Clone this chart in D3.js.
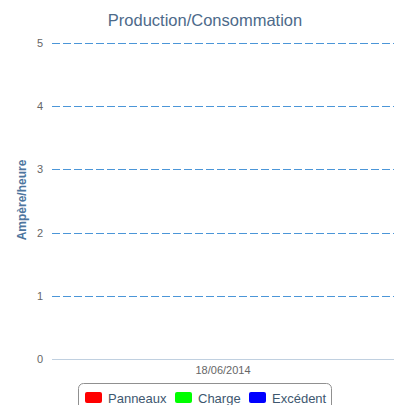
<!DOCTYPE html>
<html>
<head>
<meta charset="utf-8">
<script src="https://cdn.jsdelivr.net/npm/d3@7"></script>
<style>
  body { margin: 0; background: #fff; }
  svg { display: block; font-family: "Liberation Sans", Arial, sans-serif; }
</style>
</head>
<body>
<svg id="chart"></svg>
<script>
(function() {

// data
const categories = ["18/06/2014"];
const seriesNames = ["Panneaux", "Charge", "Excédent"];
const seriesColors = ["#ff0000", "#00ff00", "#0000ff"];
const panneaux = [0];
const charge = [0];
const excedent = [0];
const yTicks = [0, 1, 2, 3, 4, 5];

const W = 394, H = 405;
const margin = { top: 43, right: 0, bottom: 46, left: 52 };
const width = W - margin.left - margin.right;
const height = H - margin.top - margin.bottom;

const svg = d3.select("#chart")
    .attr("width", W)
    .attr("height", H);

const g = svg.append("g")
    .attr("transform", `translate(${margin.left},${margin.top})`);

const x = d3.scaleBand().domain(categories).range([0, width]).paddingInner(0.2).paddingOuter(0.1);
const xs = d3.scaleBand().domain(seriesNames).range([0, x.bandwidth()]).padding(0.1);
const y = d3.scaleLinear().domain([0, 5]).range([height, 0]);

// grid lines
g.selectAll(".grid")
    .data(yTicks.filter(d => d > 0))
    .enter().append("line")
    .attr("class", "grid")
    .attr("x1", 0)
    .attr("x2", width)
    .attr("y1", d => Math.round(y(d)) + 0.5)
    .attr("y2", d => Math.round(y(d)) + 0.5)
    .attr("stroke", "#4b96d8")
    .attr("stroke-width", 1)
    .attr("stroke-dasharray", "8,3");

// y labels
g.selectAll(".ylab")
    .data(yTicks)
    .enter().append("text")
    .attr("class", "ylab")
    .attr("x", -9)
    .attr("y", d => y(d) + 4)
    .attr("text-anchor", "end")
    .attr("font-size", "11px")
    .attr("fill", "#666")
    .text(d => d);

// bars (all zero)
const data = [];
categories.forEach((c, i) => {
    [panneaux, charge, excedent].forEach((s, j) => {
        data.push({ cat: c, name: seriesNames[j], v: s[i], color: seriesColors[j] });
    });
});
g.selectAll(".bar")
    .data(data)
    .enter().append("rect")
    .attr("class", "bar")
    .attr("x", d => x(d.cat) + xs(d.name))
    .attr("y", d => y(d.v))
    .attr("width", xs.bandwidth())
    .attr("height", d => height - y(d.v))
    .attr("fill", d => d.color);

// x axis line
g.append("line")
    .attr("x1", 0)
    .attr("x2", width)
    .attr("y1", Math.round(y(0)) + 0.5)
    .attr("y2", Math.round(y(0)) + 0.5)
    .attr("stroke", "#c0d0e0");

g.selectAll(".xlab")
    .data(categories)
    .enter().append("text")
    .attr("class", "xlab")
    .attr("x", d => x(d) + x.bandwidth() / 2)
    .attr("y", height + 15)
    .attr("text-anchor", "middle")
    .attr("font-size", "11px")
    .attr("fill", "#666")
    .text(d => d);

// title
svg.append("text")
    .attr("x", 205)
    .attr("y", 26)
    .attr("text-anchor", "middle")
    .attr("font-size", "16.5px")
    .attr("fill", "#4d6a8a")
    .text("Production/Consommation");

// y title
svg.append("text")
    .attr("transform", "translate(26,200) rotate(-90)")
    .attr("text-anchor", "middle")
    .attr("font-size", "12px")
    .attr("font-weight", "bold")
    .attr("fill", "#4d759e")
    .text("Ampère/heure");

// legend
const legend = svg.append("g").attr("transform", "translate(78,383)");
legend.append("rect")
    .attr("x", 0.5)
    .attr("y", 0.5)
    .attr("width", 253)
    .attr("height", 32)
    .attr("rx", 5)
    .attr("fill", "#fff")
    .attr("stroke", "#909090");

const itemX = [7, 97, 171];
const items = legend.selectAll(".item")
    .data(seriesNames)
    .enter().append("g")
    .attr("class", "item")
    .attr("transform", (d, i) => `translate(${itemX[i]},9)`);
items.append("rect")
    .attr("width", 17)
    .attr("height", 11)
    .attr("rx", 2)
    .attr("fill", (d, i) => seriesColors[i]);
items.append("text")
    .attr("x", 23)
    .attr("y", 10.5)
    .attr("font-size", "13px")
    .attr("fill", "#3e576f")
    .text(d => d);

})();
</script>
</body>
</html>
